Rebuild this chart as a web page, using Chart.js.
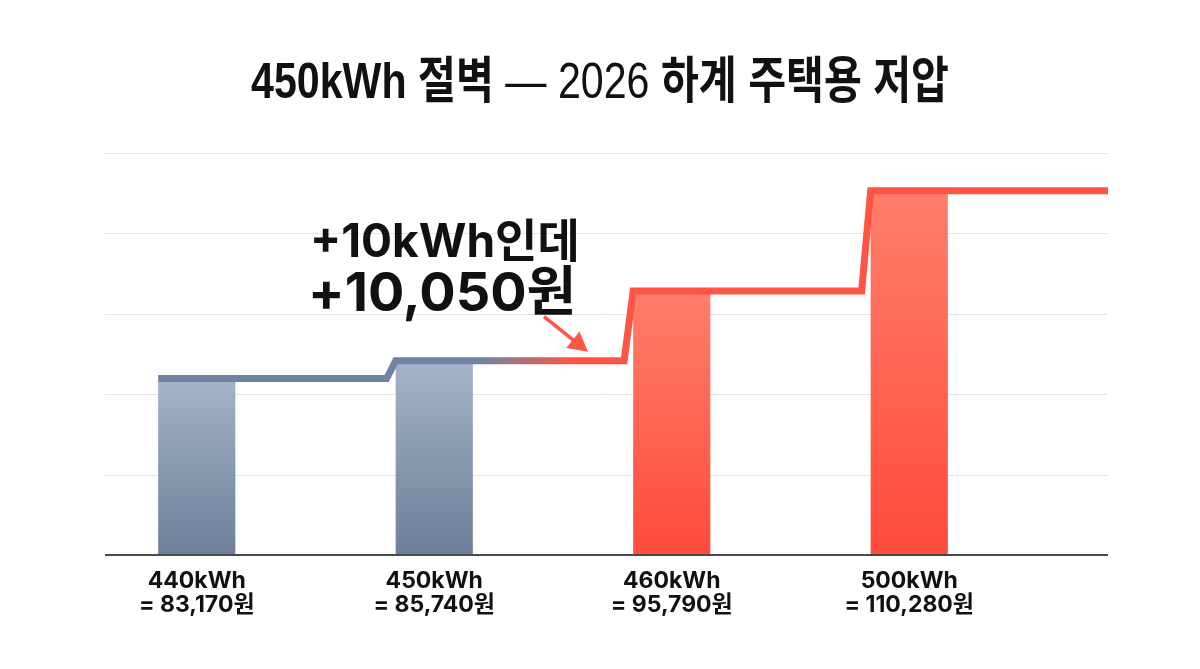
<!DOCTYPE html>
<html>
<head>
<meta charset="utf-8">
<script src="https://cdn.jsdelivr.net/npm/chart.js@4.4.1/dist/chart.umd.min.js"></script>
<style>
  html, body { margin: 0; padding: 0; background: #fff; }
  #wrap { width: 1200px; height: 669px; }
</style>
</head>
<body>
<div id="wrap"><canvas id="billChart" width="1200" height="669"></canvas></div>
<script>
/// Data
const kwhLabels = ['440kWh', '450kWh', '460kWh', '500kWh'];
const billLabels = ['= 83,170원', '= 85,740원', '= 95,790원', '= 110,280원'];
const bills = [83170, 85740, 95790, 110280];
const overCliff = [false, false, true, true];
const titleParts = [['450kWh 절벽 ', 'bold'], ['— 2026 ', 'normal'], ['하계 주택용 저압', 'bold']];
const calloutLines = ['+10kWh인데', '+10,050원'];

const FONT = "'Liberation Sans', 'Noto Sans CJK KR', sans-serif";
const WIDE_FONT = "Inter, 'Noto Sans CJK KR', sans-serif";
const SLATE = '#6f84a0';
const RED = '#ff5545';
const GRID_EXT_LEFT = 27;
const GRID_EXT_RIGHT = 80;
const TITLE_WIDTH = 698;

Chart.defaults.font.family = WIDE_FONT;
Chart.defaults.color = '#111';

/// Vertical gradient per bar, light at top
function barFill(ctx) {
    const chart = ctx.chart;
    const ca = chart.chartArea;
    const hot = overCliff[ctx.dataIndex];
    if (!ca) return hot ? RED : SLATE;
    const top = chart.scales.y.getPixelForValue(ctx.raw);
    const g = chart.ctx.createLinearGradient(0, top, 0, ca.bottom);
    if (hot) {
        g.addColorStop(0, '#ff7e6b');
        g.addColorStop(1, '#ff4b3b');
    } else {
        g.addColorStop(0, '#a3b3c7');
        g.addColorStop(1, '#6d8098');
    }
    return g;
}

/// Grid lines and baseline, a bit wider than the category area
const gridPlugin = {
    id: 'wideGrid',
    beforeDatasetsDraw(chart) {
        const { ctx, chartArea: ca, scales: { y } } = chart;
        ctx.save();
        ctx.strokeStyle = '#e4e4e4';
        ctx.lineWidth = 1;
        y.ticks.forEach(t => {
            if (t.value === y.min) return;
            const py = Math.round(y.getPixelForValue(t.value)) + 0.5;
            ctx.beginPath();
            ctx.moveTo(ca.left + GRID_EXT_LEFT, py);
            ctx.lineTo(ca.right + GRID_EXT_RIGHT, py);
            ctx.stroke();
        });
        ctx.restore();
    },
    afterDatasetsDraw(chart) {
        const { ctx, chartArea: ca } = chart;
        ctx.save();
        ctx.strokeStyle = '#4a4a4a';
        ctx.lineWidth = 2;
        ctx.beginPath();
        ctx.moveTo(ca.left + GRID_EXT_LEFT, ca.bottom);
        ctx.lineTo(ca.right + GRID_EXT_RIGHT, ca.bottom);
        ctx.stroke();
        ctx.restore();
    }
};

/// Step line riding over the bar tops, plus the callout
const stepPlugin = {
    id: 'stepLine',
    afterDatasetsDraw(chart) {
        const { ctx, chartArea: ca } = chart;
        const bars = chart.getDatasetMeta(0).data;
        const pts = bars.map(b => ({ l: b.x - b.width / 2, r: b.x + b.width / 2, y: b.y - 2 }));
        const grad = ctx.createLinearGradient(pts[1].r + 10, 0, pts[1].r + 100, 0);
        grad.addColorStop(0, SLATE);
        grad.addColorStop(1, RED);
        ctx.save();
        ctx.strokeStyle = grad;
        ctx.lineWidth = 7;
        ctx.lineJoin = 'miter';
        ctx.beginPath();
        ctx.moveTo(pts[0].l, pts[0].y);
        for (let i = 1; i < pts.length; i++) {
            ctx.lineTo(pts[i].l - 9, pts[i - 1].y);
            ctx.lineTo(pts[i].l, pts[i].y);
        }
        ctx.lineTo(ca.right + GRID_EXT_RIGHT, pts[pts.length - 1].y);
        ctx.stroke();

        ctx.fillStyle = '#111';
        ctx.textBaseline = 'alphabetic';
        ctx.textAlign = 'left';
        ctx.font = 'bold 46px ' + WIDE_FONT;
        ctx.fillText(calloutLines[0], 310, 257);
        ctx.font = 'bold 54px ' + WIDE_FONT;
        ctx.fillText(calloutLines[1], 308, 311);

        // arrow pointing at the flat run before the jump
        const tipX = 588, tipY = pts[1].y - 9;
        const fromX = tipX - 44, fromY = tipY - 35;
        const ang = Math.atan2(tipY - fromY, tipX - fromX);
        ctx.strokeStyle = RED;
        ctx.fillStyle = RED;
        ctx.lineWidth = 3.5;
        ctx.beginPath();
        ctx.moveTo(fromX, fromY);
        ctx.lineTo(tipX - 14 * Math.cos(ang), tipY - 14 * Math.sin(ang));
        ctx.stroke();
        ctx.beginPath();
        ctx.moveTo(tipX, tipY);
        ctx.lineTo(tipX - 22 * Math.cos(ang - 0.5), tipY - 22 * Math.sin(ang - 0.5));
        ctx.lineTo(tipX - 22 * Math.cos(ang + 0.5), tipY - 22 * Math.sin(ang + 0.5));
        ctx.closePath();
        ctx.fill();
        ctx.restore();
    }
};

/// Title with mixed weights, squeezed to the reference width
const titlePlugin = {
    id: 'mixedTitle',
    afterDraw(chart) {
        const ctx = chart.ctx;
        ctx.save();
        ctx.fillStyle = '#111';
        ctx.textBaseline = 'alphabetic';
        let total = 0;
        const widths = titleParts.map(([txt, w]) => {
            ctx.font = w + ' 50px ' + FONT;
            const m = ctx.measureText(txt).width;
            total += m;
            return m;
        });
        const sx = Math.min(1, TITLE_WIDTH / total);
        ctx.translate(chart.width / 2 - (total * sx) / 2, 98);
        ctx.scale(sx, 1);
        let x = 0;
        titleParts.forEach(([txt, w], i) => {
            ctx.font = w + ' 50px ' + FONT;
            ctx.fillText(txt, x, 0);
            x += widths[i];
        });
        ctx.restore();
    }
};

const billChart = new Chart('billChart', {
    type: 'bar',
    data: {
        labels: kwhLabels.map((k, i) => [k, billLabels[i]]),
        datasets: [
            {
                label: '요금',
                data: bills,
                backgroundColor: barFill,
                borderWidth: 0,
                barPercentage: 0.325,
                categoryPercentage: 1
            }
        ]
    },
    options: {
        responsive: false,
        animation: false,
        layout: {
            padding: { top: 153, left: 78, right: 172, bottom: 0 }
        },
        plugins: {
            legend: { display: false },
            title: { display: false },
            tooltip: { enabled: false }
        },
        scales: {
            x: {
                grid: { display: false },
                border: { display: false },
                ticks: {
                    padding: 6,
                    color: '#111',
                    font: { size: 23, weight: 'bold', lineHeight: 1.05 }
                },
                afterFit(s) { s.height = 114; }
            },
            y: {
                min: 58000,
                max: 116000,
                grid: { display: false },
                border: { display: false },
                ticks: { display: false, stepSize: 11600 },
                afterFit(s) { s.width = 0; }
            }
        }
    },
    plugins: [gridPlugin, stepPlugin, titlePlugin]
});
</script>
</body>
</html>
